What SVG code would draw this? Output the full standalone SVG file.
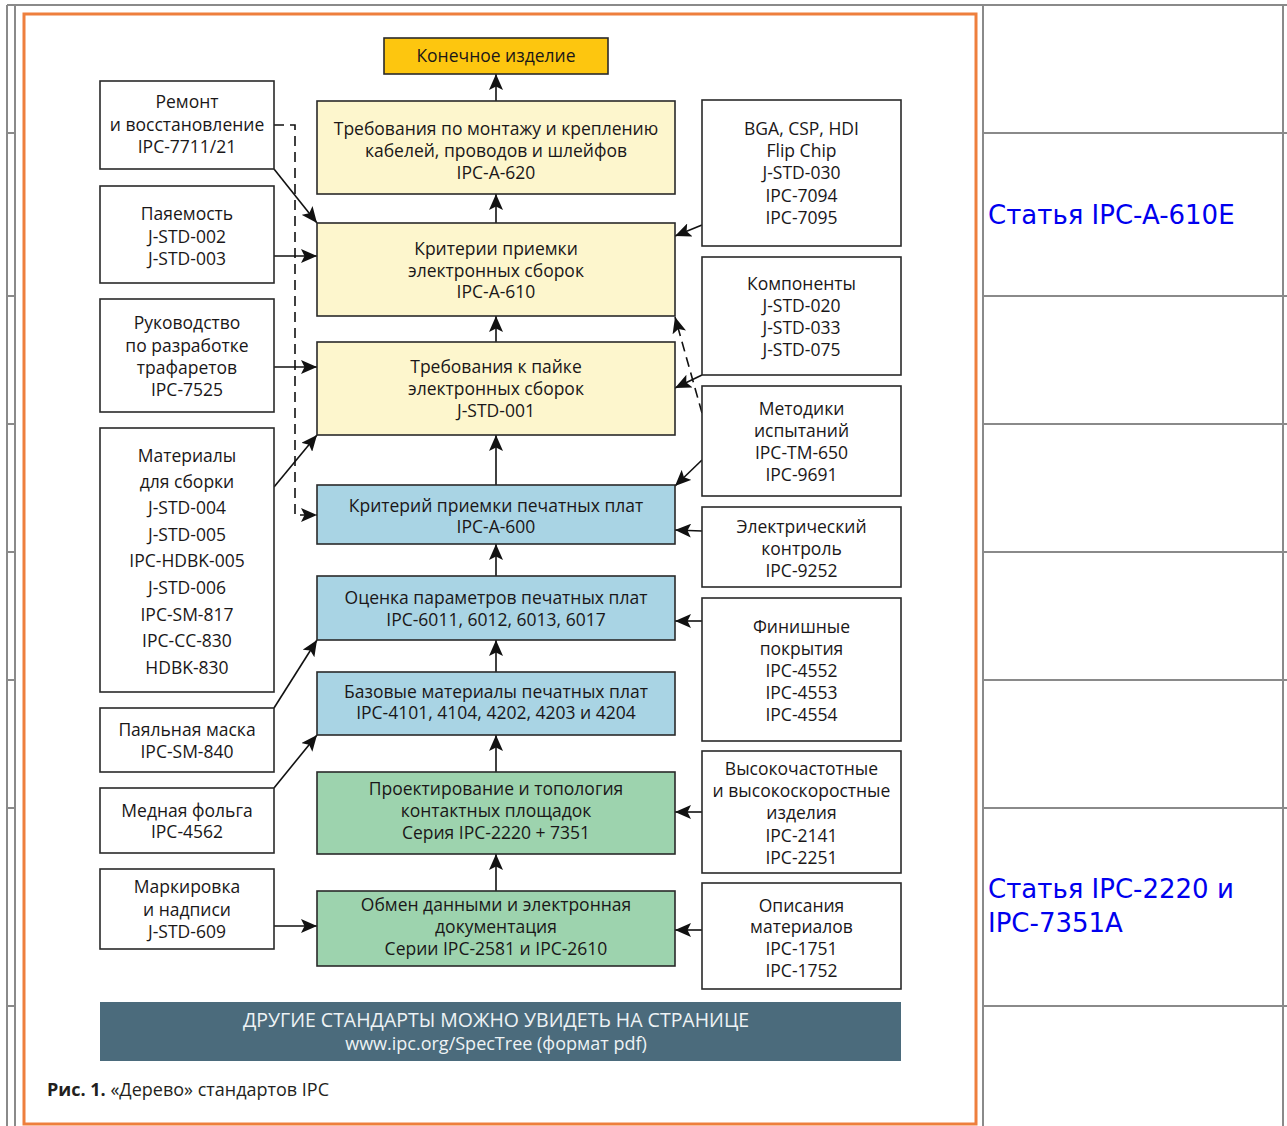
<svg xmlns="http://www.w3.org/2000/svg" width="1287" height="1126" viewBox="0 0 1287 1126">
<defs>
<marker id="ah" viewBox="0 0 16 14" refX="16" refY="7" markerWidth="16" markerHeight="14" orient="auto" markerUnits="userSpaceOnUse">
<path d="M0,0 L16,7 L0,14 L3.5,7 z" fill="#111"/>
</marker>
<style>
.tl{stroke:#8a8a8a;stroke-width:2;fill:none}
.box{stroke:#2a2a2a;stroke-width:1.6}
.w{fill:#fff}
.y{fill:#fdf6cd}
.b{fill:#a9d4e4}
.g{fill:#9dd3ae}
.t{font-family:"Open Sans","Liberation Sans",sans-serif;font-size:17.5px;fill:#1a1718;text-anchor:middle}
.c{stroke:#111;stroke-width:1.6;fill:none;marker-end:url(#ah)}
.d{stroke-dasharray:10 6}
.lnk{font-family:"DejaVu Sans",sans-serif;font-size:26px;fill:#0000ee}
</style>
</defs>
<rect width="1287" height="1126" fill="#fff"/>
<g id="table">
<line class="tl" x1="7" y1="5" x2="1287" y2="5"/>
<line class="tl" x1="7" y1="5" x2="7" y2="1126"/>
<line class="tl" x1="15" y1="5" x2="15" y2="1126"/>
<line class="tl" x1="983" y1="5" x2="983" y2="1126"/>
<line class="tl" x1="1283" y1="5" x2="1283" y2="1126"/>
<path class="tl" d="M7,133H15M7,296H15M7,424H15M7,552H15M7,680H15M7,808H15M7,1006H15"/>
<path class="tl" d="M983,133H1287M983,296H1287M983,424H1287M983,552H1287M983,680H1287M983,808H1287M983,1006H1287"/>
<text class="lnk" x="988" y="224">Статья IPC-A-610E</text>
<text class="lnk" x="988" y="898">Статья IPC-2220 и</text>
<text class="lnk" x="988" y="932">IPC-7351A</text>
</g>
<rect x="24" y="14" width="952" height="1110" fill="#fff" stroke="#ee7f3d" stroke-width="3"/>
<g id="connectors">
<line class="c" x1="496" y1="101" x2="496" y2="74"/>
<line class="c" x1="496" y1="223" x2="496" y2="194"/>
<line class="c" x1="496" y1="342" x2="496" y2="316"/>
<line class="c" x1="496" y1="485" x2="496" y2="435"/>
<line class="c" x1="496" y1="576" x2="496" y2="544"/>
<line class="c" x1="496" y1="672" x2="496" y2="640"/>
<line class="c" x1="496" y1="772" x2="496" y2="735"/>
<line class="c" x1="496" y1="891" x2="496" y2="854"/>
<line class="c" x1="274" y1="169" x2="317" y2="223"/>
<path class="c d" d="M274,125 H295 V515 H317"/>
<line class="c" x1="274" y1="256" x2="317" y2="256"/>
<line class="c" x1="274" y1="367" x2="317" y2="367"/>
<line class="c" x1="274" y1="487" x2="317" y2="435"/>
<line class="c" x1="274" y1="708" x2="317" y2="640"/>
<line class="c" x1="274" y1="788" x2="317" y2="735"/>
<line class="c" x1="274" y1="926" x2="317" y2="926"/>
<line class="c" x1="702" y1="225" x2="675" y2="236"/>
<line class="c" x1="702" y1="375" x2="675" y2="388"/>
<line class="c d" x1="702" y1="413" x2="675" y2="317"/>
<line class="c" x1="702" y1="460" x2="675" y2="486"/>
<line class="c" x1="702" y1="531" x2="675" y2="530"/>
<line class="c" x1="702" y1="621" x2="675" y2="621"/>
<line class="c" x1="702" y1="812" x2="675" y2="812"/>
<line class="c" x1="702" y1="930" x2="675" y2="930"/>
</g>
<g id="final">
<rect class="box" x="384" y="38" width="224" height="36" fill="#fdc60f"/>
<text class="t" x="496" y="62">Конечное изделие</text>
</g>
<g id="ipc-a-620">
<rect class="box y" x="317" y="101" width="358" height="93"/>
<text class="t" x="496" y="135">Требования по монтажу и креплению</text>
<text class="t" x="496" y="157">кабелей, проводов и шлейфов</text>
<text class="t" x="496" y="179">IPC-A-620</text>
</g>
<g id="ipc-a-610">
<rect class="box y" x="317" y="223" width="358" height="93"/>
<text class="t" x="496" y="255">Критерии приемки</text>
<text class="t" x="496" y="277">электронных сборок</text>
<text class="t" x="496" y="298">IPC-A-610</text>
</g>
<g id="j-std-001">
<rect class="box y" x="317" y="342" width="358" height="93"/>
<text class="t" x="496" y="373">Требования к пайке</text>
<text class="t" x="496" y="395">электронных сборок</text>
<text class="t" x="496" y="417">J-STD-001</text>
</g>
<g id="ipc-a-600">
<rect class="box b" x="317" y="485" width="358" height="59"/>
<text class="t" x="496" y="512">Критерий приемки печатных плат</text>
<text class="t" x="496" y="533">IPC-A-600</text>
</g>
<g id="ipc-6011">
<rect class="box b" x="317" y="576" width="358" height="64"/>
<text class="t" x="496" y="604">Оценка параметров печатных плат</text>
<text class="t" x="496" y="626">IPC-6011, 6012, 6013, 6017</text>
</g>
<g id="ipc-4101">
<rect class="box b" x="317" y="672" width="358" height="63"/>
<text class="t" x="496" y="698">Базовые материалы печатных плат</text>
<text class="t" x="496" y="719">IPC-4101, 4104, 4202, 4203 и 4204</text>
</g>
<g id="ipc-2220">
<rect class="box g" x="317" y="772" width="358" height="82"/>
<text class="t" x="496" y="795">Проектирование и топология</text>
<text class="t" x="496" y="817">контактных площадок</text>
<text class="t" x="496" y="839">Серия IPC-2220 + 7351</text>
</g>
<g id="ipc-2581">
<rect class="box g" x="317" y="891" width="358" height="75"/>
<text class="t" x="496" y="911">Обмен данными и электронная</text>
<text class="t" x="496" y="933">документация</text>
<text class="t" x="496" y="955">Серии IPC-2581 и IPC-2610</text>
</g>
<g id="repair">
<rect class="box w" x="100" y="81" width="174" height="88"/>
<text class="t" x="187" y="108">Ремонт</text>
<text class="t" x="187" y="131">и восстановление</text>
<text class="t" x="187" y="153">IPC-7711/21</text>
</g>
<g id="solderability">
<rect class="box w" x="100" y="186" width="174" height="97"/>
<text class="t" x="187" y="220">Паяемость</text>
<text class="t" x="187" y="243">J-STD-002</text>
<text class="t" x="187" y="265">J-STD-003</text>
</g>
<g id="stencil">
<rect class="box w" x="100" y="299" width="174" height="113"/>
<text class="t" x="187" y="329">Руководство</text>
<text class="t" x="187" y="352">по разработке</text>
<text class="t" x="187" y="374">трафаретов</text>
<text class="t" x="187" y="396">IPC-7525</text>
</g>
<g id="materials">
<rect class="box w" x="100" y="428" width="174" height="264"/>
<text class="t" x="187" y="462">Материалы</text>
<text class="t" x="187" y="488">для сборки</text>
<text class="t" x="187" y="514">J-STD-004</text>
<text class="t" x="187" y="541">J-STD-005</text>
<text class="t" x="187" y="567">IPC-HDBK-005</text>
<text class="t" x="187" y="594">J-STD-006</text>
<text class="t" x="187" y="621">IPC-SM-817</text>
<text class="t" x="187" y="647">IPC-CC-830</text>
<text class="t" x="187" y="674">HDBK-830</text>
</g>
<g id="soldermask">
<rect class="box w" x="100" y="708" width="174" height="64"/>
<text class="t" x="187" y="736">Паяльная маска</text>
<text class="t" x="187" y="758">IPC-SM-840</text>
</g>
<g id="copper">
<rect class="box w" x="100" y="788" width="174" height="65"/>
<text class="t" x="187" y="817">Медная фольга</text>
<text class="t" x="187" y="838">IPC-4562</text>
</g>
<g id="marking">
<rect class="box w" x="100" y="869" width="174" height="80"/>
<text class="t" x="187" y="893">Маркировка</text>
<text class="t" x="187" y="916">и надписи</text>
<text class="t" x="187" y="938">J-STD-609</text>
</g>
<g id="bga">
<rect class="box w" x="702" y="100" width="199" height="146"/>
<text class="t" x="801.5" y="135">BGA, CSP, HDI</text>
<text class="t" x="801.5" y="157">Flip Chip</text>
<text class="t" x="801.5" y="179">J-STD-030</text>
<text class="t" x="801.5" y="202">IPC-7094</text>
<text class="t" x="801.5" y="224">IPC-7095</text>
</g>
<g id="components">
<rect class="box w" x="702" y="257" width="199" height="118"/>
<text class="t" x="801.5" y="290">Компоненты</text>
<text class="t" x="801.5" y="312">J-STD-020</text>
<text class="t" x="801.5" y="334">J-STD-033</text>
<text class="t" x="801.5" y="356">J-STD-075</text>
</g>
<g id="testmethods">
<rect class="box w" x="702" y="386" width="199" height="110"/>
<text class="t" x="801.5" y="415">Методики</text>
<text class="t" x="801.5" y="437">испытаний</text>
<text class="t" x="801.5" y="459">IPC-TM-650</text>
<text class="t" x="801.5" y="481">IPC-9691</text>
</g>
<g id="electrical">
<rect class="box w" x="702" y="507" width="199" height="80"/>
<text class="t" x="801.5" y="533">Электрический</text>
<text class="t" x="801.5" y="555">контроль</text>
<text class="t" x="801.5" y="577">IPC-9252</text>
</g>
<g id="finishes">
<rect class="box w" x="702" y="598" width="199" height="143"/>
<text class="t" x="801.5" y="633">Финишные</text>
<text class="t" x="801.5" y="655">покрытия</text>
<text class="t" x="801.5" y="677">IPC-4552</text>
<text class="t" x="801.5" y="699">IPC-4553</text>
<text class="t" x="801.5" y="721">IPC-4554</text>
</g>
<g id="highfreq">
<rect class="box w" x="702" y="751" width="199" height="122"/>
<text class="t" x="801.5" y="775">Высокочастотные</text>
<text class="t" x="801.5" y="797">и высокоскоростные</text>
<text class="t" x="801.5" y="819">изделия</text>
<text class="t" x="801.5" y="842">IPC-2141</text>
<text class="t" x="801.5" y="864">IPC-2251</text>
</g>
<g id="matdesc">
<rect class="box w" x="702" y="883" width="199" height="106"/>
<text class="t" x="801.5" y="912">Описания</text>
<text class="t" x="801.5" y="933">материалов</text>
<text class="t" x="801.5" y="955">IPC-1751</text>
<text class="t" x="801.5" y="977">IPC-1752</text>
</g>
<g id="banner">
<rect x="100" y="1002" width="801" height="59" fill="#4b6b7c"/>
<text class="t" x="496" y="1027" style="fill:#eef3f5;font-size:19.5px">ДРУГИЕ СТАНДАРТЫ МОЖНО УВИДЕТЬ НА СТРАНИЦЕ</text>
<text class="t" x="496" y="1050" style="fill:#eef3f5;font-size:18px">www.ipc.org/SpecTree (формат pdf)</text>
</g>
<g id="caption">
<text x="47" y="1096" style="font-family:'Open Sans','Liberation Sans',sans-serif;font-size:18px;fill:#231f20"><tspan font-weight="bold">Рис. 1.</tspan> «Дерево» стандартов IPC</text>
</g>
</svg>
